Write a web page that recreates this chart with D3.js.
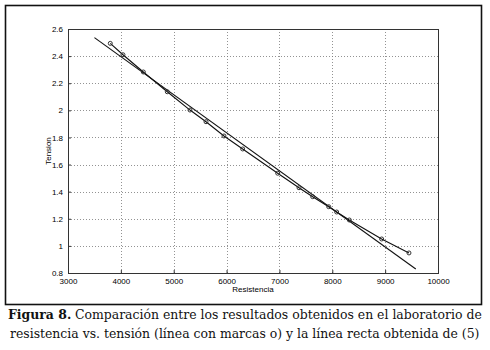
<!DOCTYPE html>
<html>
<head>
<meta charset="utf-8">
<script src="https://cdn.jsdelivr.net/npm/d3@7"></script>
<style>
  html, body { margin: 0; padding: 0; background: #fff; }
  svg { display: block; }
  .tick text { font-family: "Liberation Sans", Arial, sans-serif; font-size: 8px; fill: #000; }
</style>
</head>
<body>
<div id="chart"></div>
<script>
// Measured values (Resistencia vs Tension)
const resistencia = [3800, 4040, 4425, 4878, 5308, 5611, 5951, 6305, 6967, 7370, 7629, 7932, 8083, 8322, 8934, 9451];
const tension = [2.494, 2.410, 2.283, 2.137, 2.002, 1.916, 1.811, 1.715, 1.536, 1.429, 1.363, 1.289, 1.250, 1.191, 1.051, 0.948];

// Straight line obtained from (5): end points
const rectaR = [3500, 9580];
const rectaV = [2.536, 0.830];

const xTicks = [3000, 4000, 5000, 6000, 7000, 8000, 9000, 10000];
const yTicks = [0.8, 1, 1.2, 1.4, 1.6, 1.8, 2, 2.2, 2.4, 2.6];

const captionLabel = "Figura 8.";
const captionLines = [
    "Comparación entre los resultados obtenidos en el laboratorio de",
    "resistencia vs. tensión (línea con marcas o) y la línea recta obtenida de (5)"
];

function draw() {
    const W = 490, H = 350;
    const plot = { left: 68, top: 29, right: 438, bottom: 273 };

    const svg = d3.select('#chart')
        .append('svg')
        .attr('width', W)
        .attr('height', H);

    // Outer frame of the figure
    svg.append('rect')
        .attr('x', 5.5).attr('y', 5.5)
        .attr('width', 476).attr('height', 299)
        .attr('fill', 'none')
        .attr('stroke', '#111')
        .attr('stroke-width', 1.6);

    const x = d3.scaleLinear().domain([3000, 10000]).range([plot.left, plot.right]);
    const y = d3.scaleLinear().domain([0.8, 2.6]).range([plot.bottom, plot.top]);

    // Grid lines (dotted)
    const grid = svg.append('g').attr('stroke', '#777').attr('stroke-width', 0.8)
        .attr('stroke-dasharray', '1,2');
    grid.selectAll('.gx').data(xTicks.slice(1, -1)).enter().append('line')
        .attr('x1', d => Math.round(x(d)) + 0.5).attr('x2', d => Math.round(x(d)) + 0.5)
        .attr('y1', plot.top).attr('y2', plot.bottom);
    grid.selectAll('.gy').data(yTicks.slice(1, -1)).enter().append('line')
        .attr('y1', d => Math.round(y(d)) + 0.5).attr('y2', d => Math.round(y(d)) + 0.5)
        .attr('x1', plot.left).attr('x2', plot.right);

    // Axes
    const xAxis = d3.axisBottom(x)
        .tickValues(xTicks)
        .tickFormat(d => d.toString())
        .tickSizeInner(-3)
        .tickSizeOuter(0)
        .tickPadding(5);
    const gx = svg.append('g')
        .attr('transform', `translate(0, ${plot.bottom})`)
        .call(xAxis);
    gx.select('.domain').remove();
    gx.selectAll('.tick line').attr('stroke', '#333');

    const yAxis = d3.axisLeft(y)
        .tickValues(yTicks)
        .tickFormat(d => String(+d.toFixed(1)))
        .tickSizeInner(-3)
        .tickSizeOuter(0)
        .tickPadding(5);
    const gy = svg.append('g')
        .attr('transform', `translate(${plot.left}, 0)`)
        .call(yAxis);
    gy.select('.domain').remove();
    gy.selectAll('.tick line').attr('stroke', '#333');

    // Plot box
    svg.append('rect')
        .attr('x', plot.left + 0.5).attr('y', plot.top + 0.5)
        .attr('width', plot.right - plot.left).attr('height', plot.bottom - plot.top)
        .attr('fill', 'none')
        .attr('stroke', '#333')
        .attr('stroke-width', 1);

    // Axis labels
    svg.append('text')
        .attr('x', (plot.left + plot.right) / 2)
        .attr('y', 292)
        .attr('text-anchor', 'middle')
        .style('font-family', '"Liberation Sans", Arial, sans-serif')
        .style('font-size', '8px')
        .text('Resistencia');

    svg.append('text')
        .attr('transform', `translate(51, ${(plot.top + plot.bottom) / 2}) rotate(-90)`)
        .attr('text-anchor', 'middle')
        .style('font-family', '"Liberation Sans", Arial, sans-serif')
        .style('font-size', '8px')
        .text('Tension');

    // Straight line from (5)
    const line = d3.line().x(d => x(d[0])).y(d => y(d[1]));
    svg.append('path')
        .datum(rectaR.map((r, i) => [r, rectaV[i]]))
        .attr('d', line)
        .attr('fill', 'none')
        .attr('stroke', '#111')
        .attr('stroke-width', 1.1);

    // Measured curve with o markers
    const pts = resistencia.map((r, i) => [r, tension[i]]);
    svg.append('path')
        .datum(pts)
        .attr('d', line)
        .attr('fill', 'none')
        .attr('stroke', '#111')
        .attr('stroke-width', 1.1);

    svg.selectAll('.marker').data(pts).enter().append('circle')
        .attr('cx', d => x(d[0]))
        .attr('cy', d => y(d[1]))
        .attr('r', 2)
        .attr('fill', 'none')
        .attr('stroke', '#333')
        .attr('stroke-width', 1);

    // Caption: font size fitted so each line spans the same width as the original
    const cap = svg.append('g')
        .style('font-family', '"DejaVu Serif", "Liberation Serif", serif')
        .attr('fill', '#111');

    const base = 14;
    const lbl = cap.append('text').attr('x', 8).attr('y', 319)
        .style('font-size', base + 'px').style('font-weight', 'bold')
        .text(captionLabel);
    const rest1 = cap.append('text').attr('y', 319)
        .style('font-size', base + 'px')
        .text(captionLines[0]);
    const w1 = lbl.node().getComputedTextLength() + rest1.node().getComputedTextLength() + base * 0.3;
    const fs1 = base * 474 / w1;
    lbl.style('font-size', fs1 + 'px');
    rest1.style('font-size', fs1 + 'px')
        .attr('x', 8 + lbl.node().getComputedTextLength() + fs1 * 0.3);

    const line2 = cap.append('text').attr('x', 10).attr('y', 338)
        .style('font-size', base + 'px')
        .text(captionLines[1]);
    const fs2 = base * 470 / line2.node().getComputedTextLength();
    line2.style('font-size', fs2 + 'px');
}

document.addEventListener('DOMContentLoaded', draw);
</script>
</body>
</html>
